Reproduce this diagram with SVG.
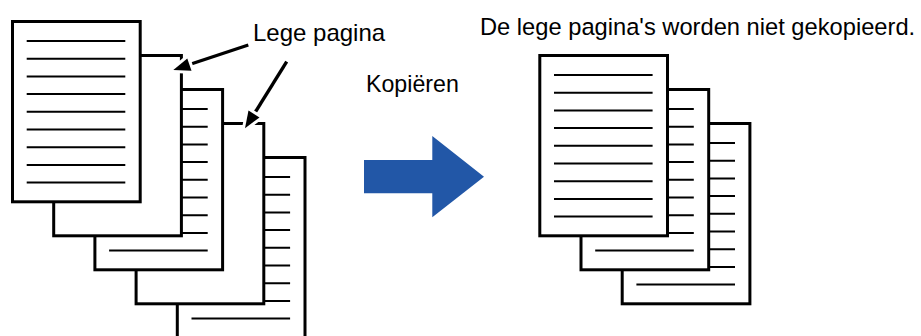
<svg xmlns="http://www.w3.org/2000/svg" xmlns:xlink="http://www.w3.org/1999/xlink" width="921" height="336" viewBox="0 0 921 336">
<style>
.page{fill:#fff;stroke:#000;stroke-width:3}
.ln{stroke:#000;stroke-width:2;fill:none}
.lbl{font-family:"Liberation Sans",Arial,sans-serif;fill:#000}
.ptr{stroke:#000;stroke-width:3.4;fill:none}
.head{fill:#000;stroke:#fff;stroke-width:6;paint-order:stroke;stroke-linejoin:round}
</style>
<defs>
<rect id="sheet" class="page" x="1.5" y="1.5" width="127.7" height="180.3"/>
<path id="lines" class="ln" d="M15.7 21H114.3M15.7 38.7H114.3M15.7 56.4H114.3M15.7 74.1H114.3M15.7 91.8H114.3M15.7 109.5H114.3M15.7 127.2H114.3M15.7 144.9H114.3M15.7 162.6H114.3"/>
</defs>
<g id="original-stack">
<g id="page5" transform="translate(175.8,156)"><use xlink:href="#sheet"/><use xlink:href="#lines"/></g>
<g id="page4-blank" transform="translate(134.6,122)"><use xlink:href="#sheet"/></g>
<g id="page3" transform="translate(93.4,88)"><use xlink:href="#sheet"/><use xlink:href="#lines"/></g>
<g id="page2-blank" transform="translate(52.2,54)"><use xlink:href="#sheet"/></g>
<g id="page1" transform="translate(11,20)"><use xlink:href="#sheet"/><use xlink:href="#lines"/></g>
</g>
<g id="copied-stack">
<g id="copyC" transform="translate(620.7,122)"><use xlink:href="#sheet"/><use xlink:href="#lines"/></g>
<g id="copyB" transform="translate(579.5,88)"><use xlink:href="#sheet"/><use xlink:href="#lines"/></g>
<g id="copyA" transform="translate(538.3,54)"><use xlink:href="#sheet"/><use xlink:href="#lines"/></g>
</g>
<g id="connectors">
<line class="ptr" x1="248.3" y1="45" x2="188" y2="65"/>
<polygon class="head" points="173.3,70 191.5,70.8 187.3,58.4"/>
<line class="ptr" x1="286.7" y1="61.7" x2="255" y2="112.5"/>
<polygon class="head" points="245,128.3 259.5,117.4 248.5,110.5"/>
<polygon id="copy-arrow" fill="#2257A7" points="364,160 432.3,160 432.3,136 484,176.7 432.3,217.3 432.3,193.3 364,193.3"/>
</g>
<g id="labels">
<text class="lbl" x="253" y="40.5" font-size="24">Lege pagina</text>
<text class="lbl" x="366" y="91.5" font-size="23.2">Kopiëren</text>
<text class="lbl" x="480" y="34.5" font-size="23.7">De lege pagina's worden niet gekopieerd.</text>
</g>
</svg>
